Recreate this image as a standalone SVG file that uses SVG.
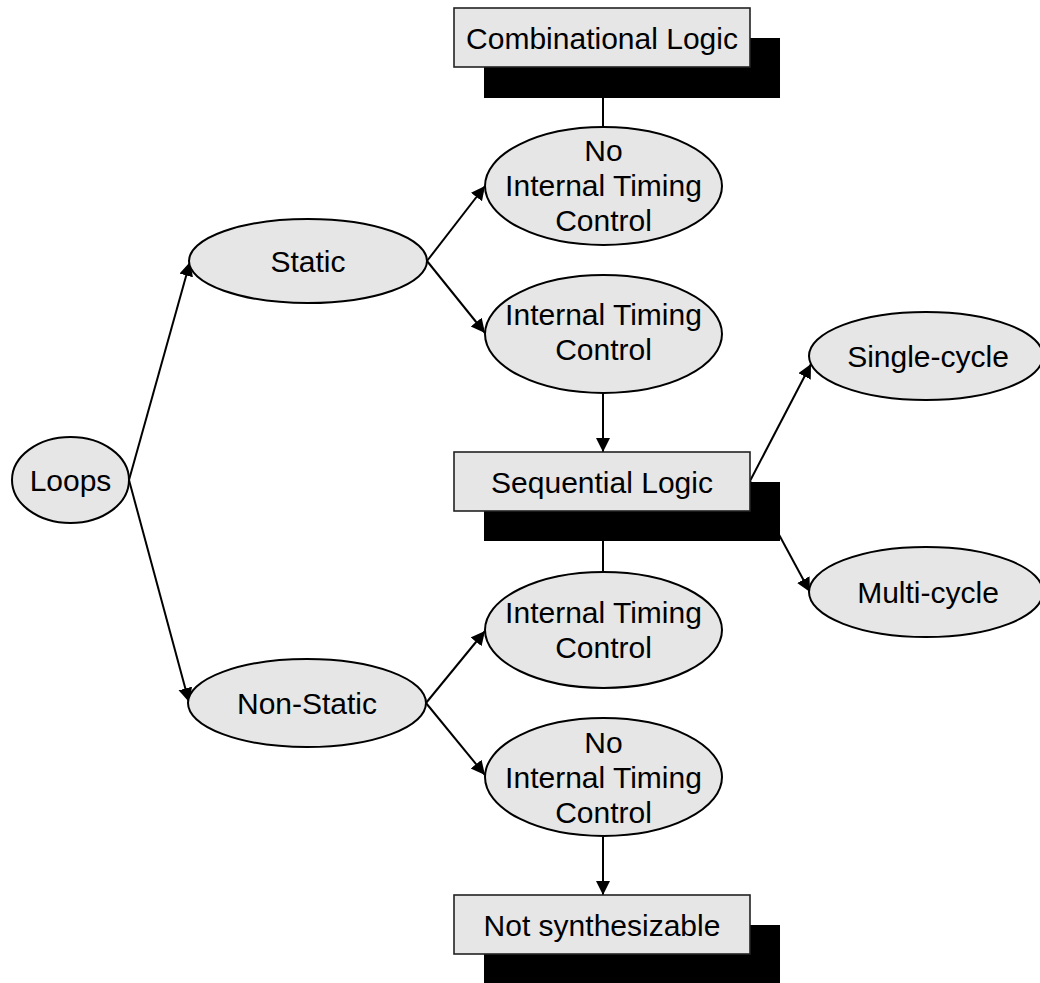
<svg xmlns="http://www.w3.org/2000/svg" width="1040" height="983" viewBox="0 0 1040 983">
  <defs>
    <marker id="arrow" markerUnits="userSpaceOnUse" markerWidth="15" markerHeight="15" refX="14" refY="7" orient="auto">
      <path d="M0,0 L14,7 L0,14 z" fill="#000"/>
    </marker>
    <style>
      .edge { stroke: #000; stroke-width: 2; fill: none; }
      .arr { marker-end: url(#arrow); }
      .ell { fill: #e6e6e6; stroke: #000; stroke-width: 2; }
      .box { fill: #e6e6e6; stroke: #222; stroke-width: 1.6; }
      .shadow { fill: #000; }
      text { font-family: "Liberation Sans", Arial, sans-serif; font-size: 30px; fill: #000; text-anchor: middle; }
    </style>
  </defs>
  <rect width="1040" height="983" fill="#fff"/>

  <!-- connectors (drawn first so nodes sit on top) -->
  <g id="connectors">
    <line class="edge arr" x1="129" y1="480" x2="190" y2="262"/>
    <line class="edge arr" x1="129" y1="480" x2="189" y2="702"/>
    <line class="edge arr" x1="427" y1="261" x2="485" y2="186"/>
    <line class="edge arr" x1="427" y1="261" x2="485" y2="333"/>
    <line class="edge arr" x1="426" y1="703" x2="485" y2="631"/>
    <line class="edge arr" x1="426" y1="703" x2="485" y2="775"/>
    <line class="edge" x1="603" y1="60" x2="603" y2="127"/>
    <line class="edge arr" x1="603" y1="393" x2="603" y2="452"/>
    <line class="edge" x1="603" y1="500" x2="603" y2="572"/>
    <line class="edge arr" x1="750" y1="481" x2="811" y2="364"/>
    <line class="edge arr" x1="750" y1="481" x2="810" y2="592"/>
    <line class="edge arr" x1="603" y1="837" x2="603" y2="895"/>
  </g>

  <g id="loops">
    <ellipse class="ell" cx="70.5" cy="480" rx="58.5" ry="43"/>
    <text x="70.5" y="491">Loops</text>
  </g>

  <g id="static">
    <ellipse class="ell" cx="308" cy="261" rx="119" ry="42"/>
    <text x="308" y="272">Static</text>
  </g>

  <g id="non-static">
    <ellipse class="ell" cx="307" cy="703" rx="119" ry="44"/>
    <text x="307" y="714">Non-Static</text>
  </g>

  <g id="combinational-logic">
    <rect class="shadow" x="484" y="38" width="296" height="60"/>
    <rect class="box" x="454" y="8" width="296" height="59"/>
    <text x="602" y="48.5">Combinational Logic</text>
  </g>

  <g id="static-no-timing">
    <ellipse class="ell" cx="603.5" cy="186" rx="118.5" ry="59"/>
    <text x="603.5" y="160.5">No</text>
    <text x="603.5" y="195.5">Internal Timing</text>
    <text x="603.5" y="230.5">Control</text>
  </g>

  <g id="static-timing">
    <ellipse class="ell" cx="603.5" cy="334" rx="118.5" ry="59"/>
    <text x="603.5" y="324.5">Internal Timing</text>
    <text x="603.5" y="359.5">Control</text>
  </g>

  <g id="sequential-logic">
    <rect class="shadow" x="484" y="482" width="296" height="59"/>
    <rect class="box" x="454" y="452" width="296" height="59"/>
    <text x="602" y="492.5">Sequential Logic</text>
  </g>

  <g id="single-cycle">
    <ellipse class="ell" cx="926" cy="356" rx="117" ry="44"/>
    <text x="928" y="366.5">Single-cycle</text>
  </g>

  <g id="multi-cycle">
    <ellipse class="ell" cx="926" cy="592" rx="117" ry="45"/>
    <text x="928" y="602.5">Multi-cycle</text>
  </g>

  <g id="non-static-timing">
    <ellipse class="ell" cx="603.5" cy="630" rx="118.5" ry="58"/>
    <text x="603.5" y="622.5">Internal Timing</text>
    <text x="603.5" y="657.5">Control</text>
  </g>

  <g id="non-static-no-timing">
    <ellipse class="ell" cx="603.5" cy="777" rx="118.5" ry="59"/>
    <text x="603.5" y="752.5">No</text>
    <text x="603.5" y="787.5">Internal Timing</text>
    <text x="603.5" y="822.5">Control</text>
  </g>

  <g id="not-synthesizable">
    <rect class="shadow" x="484" y="925" width="296" height="60"/>
    <rect class="box" x="454" y="895" width="296" height="59"/>
    <text x="602" y="935.5">Not synthesizable</text>
  </g>
</svg>
